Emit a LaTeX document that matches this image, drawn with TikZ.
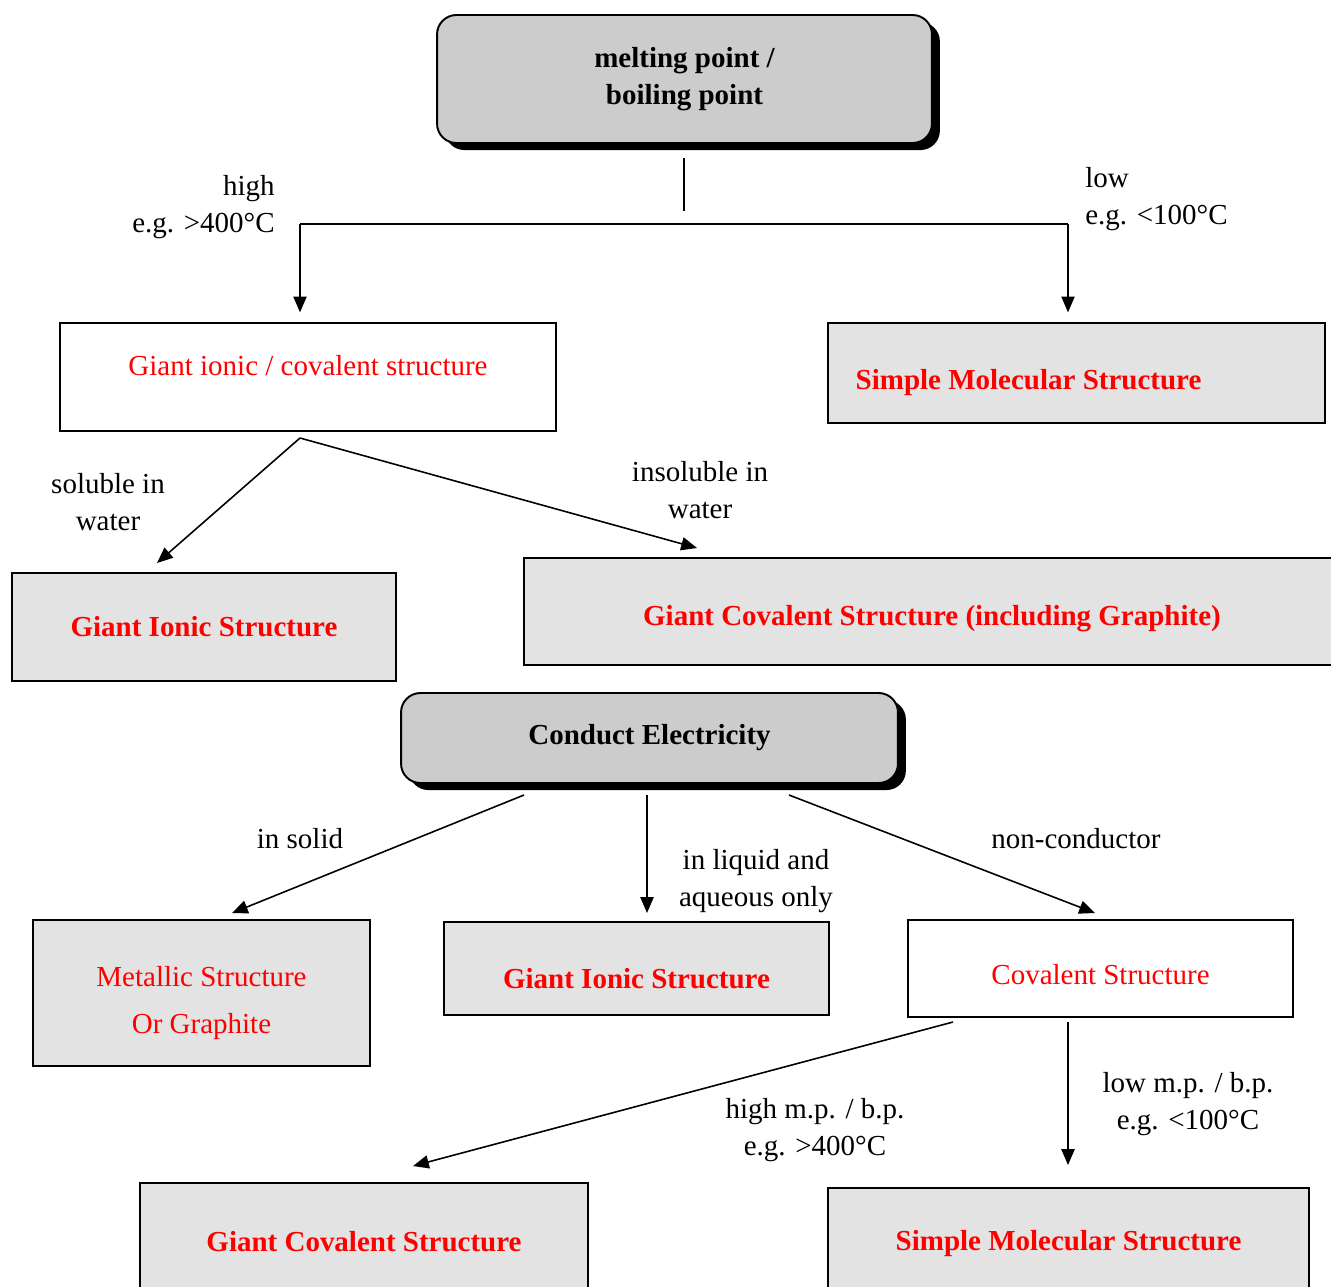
\documentclass[tikz,border=0pt]{standalone}
\usepackage{fontspec}
\setmainfont{Liberation Serif}
\usetikzlibrary{arrows.meta, positioning, shadows, calc}
\definecolor{boxred}{HTML}{FF0000}
\definecolor{headbg}{HTML}{CCCCCC}
\definecolor{leafbg}{HTML}{E3E3E3}
\tikzset{
    base/.style={draw=black, line width=1.1pt, align=center, inner sep=2pt,
                 font=\fontsize{16.5}{21}\selectfont},
    headbox/.style={base, rounded corners=11pt, fill=headbg,
                    font=\fontsize{16.5}{21}\selectfont\bfseries,
                    drop shadow={shadow xshift=4.5pt, shadow yshift=-4pt, fill=black, opacity=1}},
    plainbox/.style={base, fill=white, text=boxred},
    leafbox/.style={base, fill=leafbg, text=boxred, font=\fontsize{16.5}{21}\selectfont\bfseries},
    leafplain/.style={base, fill=leafbg, text=boxred},
    lbl/.style={font=\fontsize{16.5}{21}\selectfont, align=center, inner sep=0pt},
    arr/.style={-{Triangle[length=9pt,width=7.5pt]}, line width=0.9pt},
    link/.style={line width=0.9pt},
}
\begin{document}
\begin{tikzpicture}[x=0.02cm, y=-0.02cm]

  \useasboundingbox (0,0) rectangle (1331,1286);

  % first question
  \node[headbox, minimum width=9.9cm, minimum height=2.56cm] (mp) at (684.5,79)
        {melting point /\\boiling point};

  \node[plainbox, minimum width=9.92cm, minimum height=2.16cm, text depth=13pt] (gic) at (308,377)
        {Giant ionic / covalent structure};
  \node[leafbox, minimum width=9.94cm, minimum height=2cm, text height=22.5pt] (smsA) at (1076.5,373)
        {Simple Molecular Structure\hspace*{1.92cm}};

  \node[leafbox, minimum width=7.68cm, minimum height=2.16cm] (gisA) at (204,627)
        {Giant Ionic Structure};
  \node[leafbox, minimum width=16.32cm, minimum height=2.14cm, text height=20pt] (gcsA) at (932,611.5)
        {Giant Covalent Structure (including Graphite)};

  % second question
  \node[headbox, minimum width=9.94cm, minimum height=1.8cm] (cond) at (649.5,738)
        {Conduct Electricity};

  \node[leafplain, minimum width=6.74cm, minimum height=2.92cm, text height=50pt] (met) at (201.5,993)
        {Metallic Structure\\[6pt]Or Graphite};
  \node[leafbox, minimum width=7.7cm, minimum height=1.86cm, text height=23pt] (gisB) at (636.5,968.5)
        {Giant Ionic Structure};
  \node[plainbox, minimum width=7.7cm, minimum height=1.94cm, text height=18.5pt] (cov) at (1100.5,968.5)
        {Covalent Structure};

  \node[leafbox, minimum width=8.96cm, minimum height=2.34cm] (gcsB) at (364,1241.5)
        {Giant Covalent Structure};
  \node[leafbox, minimum width=9.62cm, minimum height=2.24cm] (smsB) at (1068.5,1244)
        {Simple Molecular Structure};

  % connector ends
  \coordinate (mpout) at (684,158);
  \coordinate (mpstub) at (684,211);
  \coordinate (hiend) at (300,224);
  \coordinate (loend) at (1068,224);
  \coordinate (gicout) at (300,438);
  \coordinate (solin) at (157,563);
  \coordinate (insolin) at (697,548);
  \coordinate (condA) at (524,795);
  \coordinate (condB) at (647,795);
  \coordinate (condC) at (789,795);
  \coordinate (metin) at (232,913);
  \coordinate (gisin) at (647,913);
  \coordinate (covin) at (1095,913);
  \coordinate (covA) at (953,1022);
  \coordinate (covB) at (1068,1022);
  \coordinate (gcsin) at (413,1166);
  \coordinate (smsin) at (1068,1165);

  \draw[link] (mpout) -- (mpstub);
  \draw[link] (hiend) -- (loend);
  \draw[arr, shorten >=5.5pt] (hiend) -- (hiend |- gic.north);
  \draw[arr, shorten >=5.5pt] (loend) -- (loend |- smsA.north);

  \draw[arr] (gicout) -- (solin);
  \draw[arr] (gicout) -- (insolin);

  \draw[arr] (condA) -- (metin);
  \draw[arr] (condB) -- (gisin);
  \draw[arr] (condC) -- (covin);

  \draw[arr] (covA) -- (gcsin);
  \draw[arr] (covB) -- (smsin);

  % labels
  \node[lbl, anchor=east, align=right] (hilbl) at (275,207) {high\\e.g. >400°C};
  \node[lbl, anchor=west, align=left] (lolbl) at (1085,199) {low\\e.g. <100°C};
  \node[lbl] (sollbl) at (108,502) {soluble in\\water};
  \node[lbl] (insollbl) at (700,490) {insoluble in\\water};
  \node[lbl] (solidlbl) at (300,839) {in solid};
  \node[lbl] (liqlbl) at (756,881) {in liquid and\\aqueous only};
  \node[lbl] (nonlbl) at (1076,839) {non-conductor};
  \node[lbl] (himplbl) at (815,1130) {high m.p. / b.p.\\e.g. >400°C};
  \node[lbl] (lomplbl) at (1188,1104) {low m.p. / b.p.\\e.g. <100°C};

\end{tikzpicture}
\end{document}
